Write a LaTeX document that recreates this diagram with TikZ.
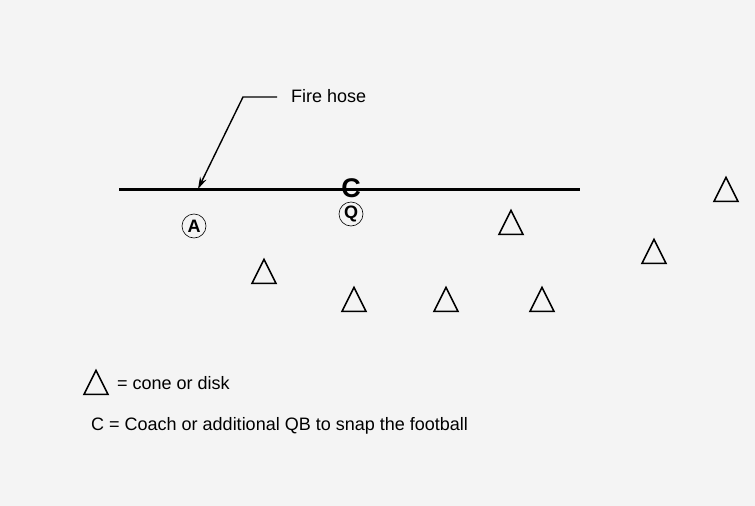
\documentclass[tikz,border=0pt]{standalone}
\usepackage{fontspec}
\setmainfont{Liberation Sans}
\usetikzlibrary{shapes.geometric,arrows.meta}
\definecolor{fondo}{HTML}{F4F4F4}
\begin{document}
\begin{tikzpicture}[x=1pt, y=-1pt,
    cono/.style={isosceles triangle, shape border rotate=90,
      isosceles triangle stretches, draw, line width=1.6pt,
      minimum width=24pt, minimum height=24pt, inner sep=0pt},
    jugador/.style={circle, draw, line width=0.6pt, minimum size=24pt,
      inner sep=0pt, font=\fontsize{18}{20}\selectfont\bfseries},
    texto/.style={font=\fontsize{18}{20}\selectfont, inner sep=0pt, anchor=base west}]
  \fill[fondo] (0,0) rectangle (755,506);
  \useasboundingbox (0,0) rectangle (755,506);
  % manguera
  \coordinate (h1) at (119,189);
  \coordinate (h2) at (580,189);
  \draw[line width=3pt] (h1) -- (h2);
  \coordinate (punta) at (198,189);
  \node[texto] (etq) at (291,102) {Fire hose};
  \coordinate (codo) at (243,97);
  \draw[line width=1.4pt, -{Stealth[length=12pt,width=7pt]}]
    (277,97) -- (codo) -- (punta);
  % jugadores
  \node[font=\fontsize{27}{29}\selectfont\bfseries, inner sep=0pt] (c) at (351,188) {C};
  \node[jugador] (q) at (351,214) {Q};
  \node[jugador] (a) at (194,226) {A};
  % conos
  \node[cono] (k1) at (264,276) {};
  \node[cono] (k2) at (354,304) {};
  \node[cono] (k3) at (446,304) {};
  \node[cono] (k4) at (542,304) {};
  \node[cono] (k5) at (511,227) {};
  \node[cono] (k6) at (654,256) {};
  \node[cono] (k7) at (726,194) {};
  % leyenda
  \node[cono] (kl) at (96,387) {};
  \node[texto] (l1) at (117,389) {= cone or disk};
  \node[texto] (l2) at (91,430) {C = Coach or additional QB to snap the football};
\end{tikzpicture}
\end{document}
